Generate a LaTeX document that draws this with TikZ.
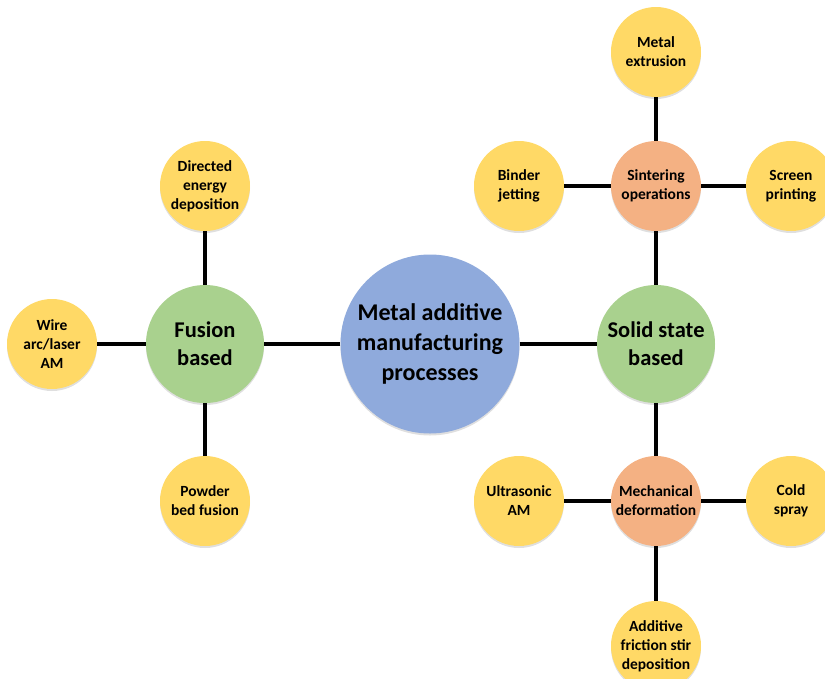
\documentclass[tikz,border=0pt]{standalone}
\usepackage{fontspec}
\setmainfont{Carlito}
\usepackage{tikz}
\usetikzlibrary{shapes,positioning,shadows}
\definecolor{leafyellow}{HTML}{FFD966}
\definecolor{branchgreen}{HTML}{A9D18E}
\definecolor{rootblue}{HTML}{8FAADC}
\definecolor{hubpeach}{HTML}{F4B183}
\tikzset{
  base/.style={circle,inner sep=0pt,align=center,font=\bfseries,
    drop shadow={shadow xshift=0pt,shadow yshift=-2pt,opacity=0.25}},
  leaf/.style={base,fill=leafyellow,minimum size=90pt,font=\bfseries\fontsize{15.5}{19}\selectfont},
  hub/.style={base,fill=hubpeach,minimum size=90pt,font=\bfseries\fontsize{15.5}{19}\selectfont},
  branch/.style={base,fill=branchgreen,minimum size=118pt,font=\bfseries\fontsize{22.5}{28}\selectfont},
  root/.style={base,fill=rootblue,minimum size=179pt,font=\bfseries\fontsize{24}{30}\selectfont},
  link/.style={line width=3.5pt}
}
\begin{document}
\begin{tikzpicture}[x=1pt,y=-1pt]
    \useasboundingbox (0,0) rectangle (825,678);
    \node[root] (mam) at (430,344) {Metal additive\\manufacturing\\processes};
    \node[branch] (fus) at (205,344) {Fusion\\based};
    \node[branch] (sol) at (656,344) {Solid state\\based};

    \node[leaf] (ded) at (205,186) {Directed\\energy\\deposition};
    \node[leaf] (wire) at (52,344) {Wire\\arc/laser\\AM};
    \node[leaf] (pbf) at (205,501) {Powder\\bed fusion};

    \node[hub] (sint) at (656,186) {Sintering\\operations};
    \node[leaf] (mex) at (656,52) {Metal\\extrusion};
    \node[leaf] (bj) at (519,186) {Binder\\jetting};
    \node[leaf] (sp) at (791,186) {Screen\\printing};

    \node[hub] (mech) at (656,501) {Mechanical\\deformation};
    \node[leaf] (uam) at (519,501) {Ultrasonic\\AM};
    \node[leaf] (cs) at (791,501) {Cold\\spray};
    \node[leaf] (afsd) at (656,646) {Additive\\friction stir\\deposition};

    \draw [link] (mam) -- (fus);
    \draw [link] (mam) -- (sol);
    \draw [link] (fus) -- (ded);
    \draw [link] (fus) -- (wire);
    \draw [link] (fus) -- (pbf);
    \draw [link] (sol) -- (sint);
    \draw [link] (sol) -- (mech);
    \draw [link] (sint) -- (mex);
    \draw [link] (sint) -- (bj);
    \draw [link] (sint) -- (sp);
    \draw [link] (mech) -- (uam);
    \draw [link] (mech) -- (cs);
    \draw [link] (mech) -- (afsd);
\end{tikzpicture}
\end{document}
